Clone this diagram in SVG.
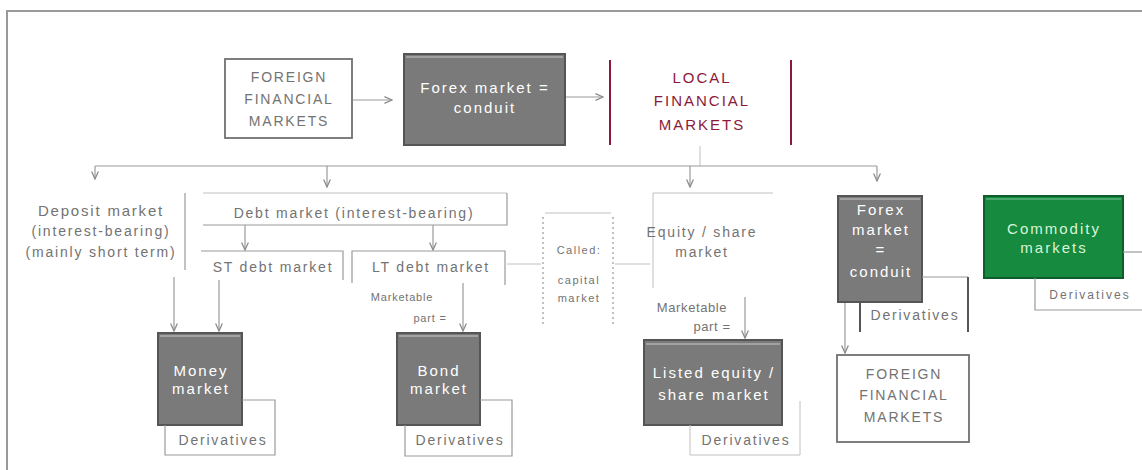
<svg xmlns="http://www.w3.org/2000/svg" width="1142" height="470" viewBox="0 0 1142 470">
<defs>
<marker id="ah" viewBox="0 0 10 10" refX="9" refY="5" markerWidth="7" markerHeight="7" orient="auto">
<path d="M0,1 L9,5 L0,9" fill="none" stroke="#8a8a8a" stroke-width="1.5"/>
</marker>
<style>
text{font-family:"Liberation Sans",Arial,sans-serif;text-anchor:middle}
.t{font-size:14px;fill:#737373;letter-spacing:1.8px}
.w{font-size:15px;fill:#ffffff;letter-spacing:2px}
.s{font-size:11px;fill:#737373;letter-spacing:1.5px}
.r{font-size:15px;fill:#8b1a3a;letter-spacing:2px}
.g{font-size:15px;fill:#d8f5d8;letter-spacing:2px}
.dark{fill:#7a7a7a;stroke:#555;stroke-width:2}
.hl{stroke:#c8c8c8;stroke-width:1.2}
.wb{fill:#fff;stroke:#707070;stroke-width:1.8}
.ln{fill:none;stroke:#9a9a9a;stroke-width:1.2}
.lt{fill:none;stroke:#c0c0c0;stroke-width:1}
.dk{fill:none;stroke:#555;stroke-width:2}
.ar{fill:none;stroke:#9a9a9a;stroke-width:1.2;marker-end:url(#ah)}
.dot{fill:none;stroke:#999;stroke-width:1.2;stroke-dasharray:2 3}
</style>
</defs>
<rect width="1142" height="470" fill="#fff"/>
<path d="M7,470 V11 H1142" fill="none" stroke="#9a9a9a" stroke-width="2"/>

<g id="connectors">
<line class="ar" x1="353" y1="100" x2="392" y2="100"/>
<line class="ar" x1="566" y1="97" x2="603" y2="97"/>
<line class="lt" x1="700" y1="146" x2="700" y2="166"/>
<line class="ln" x1="95" y1="166" x2="877" y2="166"/>
<line class="ar" x1="95" y1="166" x2="95" y2="179"/>
<line class="ar" x1="327" y1="166" x2="327" y2="187"/>
<line class="ar" x1="690" y1="166" x2="690" y2="187"/>
<line class="ar" x1="877" y1="166" x2="877" y2="181"/>
<line class="ar" x1="245" y1="225" x2="245" y2="250"/>
<line class="ar" x1="433" y1="225" x2="433" y2="250"/>
<line class="ar" x1="174" y1="277" x2="174" y2="331"/>
<line class="ar" x1="219" y1="280" x2="219" y2="331"/>
<line class="ar" x1="463" y1="283" x2="463" y2="331"/>
<line class="ar" x1="745" y1="297" x2="745" y2="338"/>
<line class="ar" x1="845" y1="303" x2="845" y2="353"/>
<line class="lt" x1="507" y1="264" x2="541" y2="264"/>
<line class="lt" x1="615" y1="264" x2="650" y2="264"/>
</g>

<g id="foreign-top">
<rect class="wb" x="225" y="59" width="127" height="79"/>
<text class="t" x="289" y="82">FOREIGN</text>
<text class="t" x="289" y="104">FINANCIAL</text>
<text class="t" x="289" y="126">MARKETS</text>
</g>

<g id="forex-top">
<rect class="dark" x="404" y="54" width="161" height="91"/>
<line class="hl" x1="406" y1="57" x2="563" y2="57"/>
<text class="w" x="485" y="93">Forex market =</text>
<text class="w" x="485" y="113">conduit</text>
</g>

<g id="local">
<line x1="610" y1="60" x2="610" y2="145" stroke="#8b1a3a" stroke-width="2"/>
<line x1="791" y1="60" x2="791" y2="145" stroke="#8b1a3a" stroke-width="2"/>
<text class="r" x="702" y="83">LOCAL</text>
<text class="r" x="702" y="106">FINANCIAL</text>
<text class="r" x="702" y="130">MARKETS</text>
</g>

<g id="deposit">
<line class="ln" x1="185" y1="193" x2="185" y2="270"/>
<text class="t" x="101" y="216" style="font-size:15px">Deposit market</text>
<text class="t" x="101" y="236">(interest-bearing)</text>
<text class="t" x="101" y="257">(mainly short term)</text>
</g>

<g id="debt">
<path class="lt" d="M203,193 H507"/>
<path class="ln" d="M507,193 V225 H203"/>
<text class="t" x="354" y="218">Debt market (interest-bearing)</text>
</g>

<g id="st-debt">
<path class="ln" d="M201,251 H343 V280"/>
<text class="t" x="273" y="272">ST debt market</text>
</g>

<g id="lt-debt">
<path class="ln" d="M352,283 V251 H505 V285"/>
<text class="t" x="431" y="272">LT debt market</text>
</g>

<g id="capital">
<line class="lt" x1="545" y1="213" x2="611" y2="213"/>
<line class="dot" x1="543" y1="217" x2="543" y2="324"/>
<line class="dot" x1="613" y1="217" x2="613" y2="324"/>
<text class="s" x="579" y="254">Called:</text>
<text class="s" x="579" y="284">capital</text>
<text class="s" x="579" y="302">market</text>
</g>

<g id="equity">
<path class="lt" d="M773,193 H653 V288"/>
<text class="t" x="702" y="237">Equity / share</text>
<text class="t" x="702" y="257">market</text>
</g>

<g id="marketable-bond">
<text class="s" x="402" y="301" style="letter-spacing:0.8px">Marketable</text>
<text class="s" x="430" y="322" style="letter-spacing:0.8px">part =</text>
</g>

<g id="marketable-equity">
<text class="t" x="692" y="312" style="font-size:13px;letter-spacing:0.6px">Marketable</text>
<text class="t" x="712" y="331" style="font-size:13px;letter-spacing:0.6px">part =</text>
</g>

<g id="money">
<rect class="dark" x="158" y="333" width="84" height="92"/>
<line class="hl" x1="160" y1="336" x2="240" y2="336"/>
<text class="w" x="201" y="376">Money</text>
<text class="w" x="201" y="394">market</text>
</g>
<g id="money-deriv">
<path class="ln" d="M242,400 H275 V455 H165 V425"/>
<text class="t" x="223" y="445">Derivatives</text>
</g>

<g id="bond">
<rect class="dark" x="397" y="333" width="83" height="92"/>
<line class="hl" x1="399" y1="336" x2="478" y2="336"/>
<text class="w" x="439" y="376">Bond</text>
<text class="w" x="439" y="394">market</text>
</g>
<g id="bond-deriv">
<path class="ln" d="M480,400 H512 V456 H405 V425"/>
<text class="t" x="460" y="445">Derivatives</text>
</g>

<g id="listed">
<rect class="dark" x="644" y="340" width="138" height="85"/>
<line class="hl" x1="646" y1="344" x2="780" y2="344"/>
<text class="w" x="714" y="378">Listed equity /</text>
<text class="w" x="714" y="400">share market</text>
</g>
<g id="listed-deriv">
<path class="lt" d="M800,401 V455 H690 V425"/>
<text class="t" x="746" y="445">Derivatives</text>
</g>

<g id="forex-right">
<rect class="dark" x="838" y="196" width="84" height="106"/>
<line class="hl" x1="840" y1="199" x2="920" y2="199"/>
<text class="w" x="881" y="215">Forex</text>
<text class="w" x="881" y="235">market</text>
<text class="w" x="881" y="255">=</text>
<text class="w" x="881" y="277">conduit</text>
</g>
<g id="forex-deriv">
<path class="ln" d="M922,277 H968"/>
<path class="dk" d="M968,277 V332"/>
<path class="dk" d="M860,302 V332"/>
<text class="t" x="915" y="320">Derivatives</text>
</g>

<g id="foreign-bottom">
<rect class="wb" x="837" y="355" width="132" height="87"/>
<text class="t" x="904" y="379">FOREIGN</text>
<text class="t" x="904" y="400">FINANCIAL</text>
<text class="t" x="904" y="422">MARKETS</text>
</g>

<g id="commodity">
<rect x="984" y="196" width="139" height="82" fill="#168a3f" stroke="#0d5e2a" stroke-width="2"/>
<line x1="986" y1="199" x2="1121" y2="199" stroke="#7fc49a" stroke-width="1"/>
<text class="g" x="1054" y="234">Commodity</text>
<text class="g" x="1054" y="253">markets</text>
</g>
<g id="commodity-deriv">
<path class="ln" d="M1123,252 H1142"/>
<path class="ln" d="M1035,278 V310 H1142"/>
<text class="s" x="1090" y="299" style="font-size:12px;letter-spacing:2px">Derivatives</text>
</g>
</svg>
